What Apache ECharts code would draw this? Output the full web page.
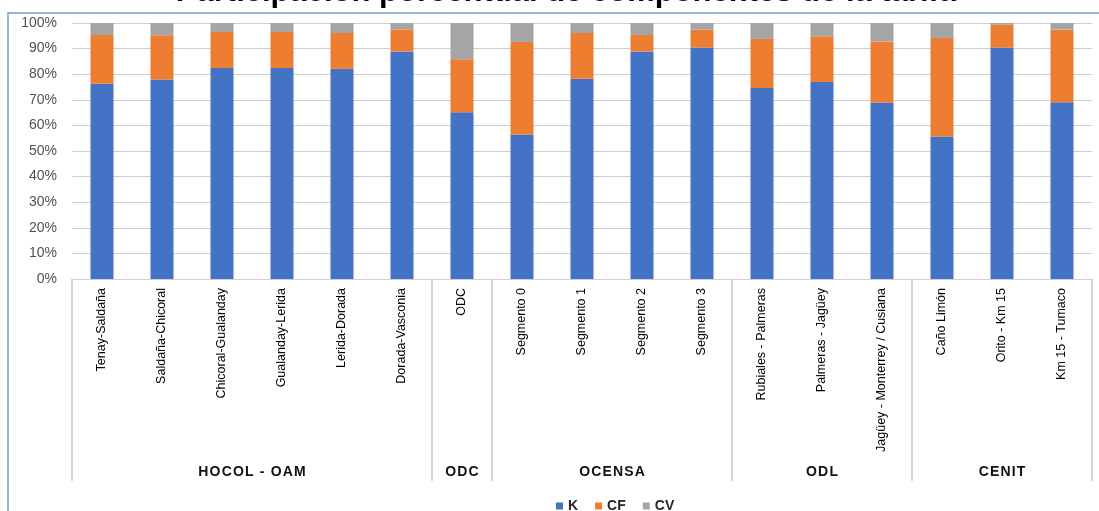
<!DOCTYPE html>
<html>
<head>
<meta charset="utf-8">
<script src="https://cdn.jsdelivr.net/npm/echarts@6/dist/echarts.min.js"></script>
<style>
  html, body { margin: 0; padding: 0; background: #ffffff; }
  #chart { width: 1099px; height: 511px; }
</style>
</head>
<body>
<div id="chart"></div>
<script>
// Tramos por sistema de transporte
const categories = [
  'Tenay-Saldaña', 'Saldaña-Chicoral', 'Chicoral-Gualanday', 'Gualanday-Lerida',
  'Lerida-Dorada', 'Dorada-Vasconia', 'ODC', 'Segmento 0', 'Segmento 1',
  'Segmento 2', 'Segmento 3', 'Rubiales - Palmeras', 'Palmeras - Jagüey',
  'Jagüey - Monterrey / Cusiana', 'Caño Limón', 'Orito - Km 15', 'Km 15 - Tumaco'
];

// Sistemas (nombre y número de tramos)
const groupNames = ['HOCOL - OAM', 'ODC', 'OCENSA', 'ODL', 'CENIT'];
const groupSizes = [6, 1, 4, 3, 3];

// Participación porcentual (%)
const seriesK  = [76.3, 77.9, 82.4, 82.4, 82.1, 88.9, 65.1, 56.4, 78.2, 88.9, 90.4, 74.6, 77.0, 68.9, 55.7, 90.4, 69.0];
const seriesCF = [19.0, 17.3, 14.1, 14.1, 14.0,  8.6, 20.7, 36.2, 17.9,  6.4,  7.0, 19.2, 17.8, 23.9, 38.4,  8.9, 28.4];
const seriesCV = [ 4.7,  4.8,  3.5,  3.5,  3.9,  2.5, 14.2,  7.4,  3.9,  4.7,  2.6,  6.3,  5.2,  7.2,  5.9,  0.7,  2.6];

// Separadores y centros de cada sistema sobre el eje auxiliar (unidades = tramos)
const groupEdges = [0];
const groupCenters = [];
groupSizes.forEach(function (n) {
  const start = groupEdges[groupEdges.length - 1];
  groupCenters.push(start + n / 2);
  groupEdges.push(start + n);
});

const FONT = 'Liberation Sans, Arial, sans-serif';

const chart = echarts.init(document.getElementById('chart'), null, { renderer: 'canvas' });

chart.setOption({
  backgroundColor: '#ffffff',
  animation: false,
  title: {
    text: 'Participación porcentual de componentes de la tarifa',
    left: 561,
    textAlign: 'center',
    top: -28,
    textStyle: { fontFamily: FONT, fontSize: 31, fontWeight: 'bold', color: '#000000' }
  },
  graphic: [{
    type: 'rect',
    silent: true,
    shape: { x: 8, y: 13, width: 1100, height: 510 },
    style: { fill: 'none', stroke: '#7b9bd6', lineWidth: 1.5 }
  }],
  legend: {
    data: ['K', 'CF', 'CV'],
    left: 551,
    top: 494,
    itemWidth: 7,
    itemHeight: 7,
    itemGap: 17,
    icon: 'rect',
    textStyle: { fontFamily: FONT, fontSize: 14, fontWeight: 'bold', color: '#262626', padding: [0, 0, 0, 0] }
  },
  grid: { left: 72, right: 7, top: 23, bottom: 232, containLabel: false },
  xAxis: [
    {
      type: 'category',
      data: categories,
      axisLine: { show: true, lineStyle: { color: '#d0d0d0', width: 1 } },
      axisTick: { show: false },
      axisLabel: {
        interval: 0,
        rotate: 90,
        margin: 9,
        fontFamily: FONT,
        fontSize: 12.5,
        color: '#000000'
      }
    },
    {
      type: 'value',
      position: 'bottom',
      min: 0,
      max: categories.length,
      gridIndex: 0,
      splitLine: { show: false },
      axisLine: { show: false },
      axisTick: {
        show: true,
        customValues: groupEdges,
        length: 202,
        lineStyle: { color: '#c8c8c8', width: 1.5 }
      },
      axisLabel: {
        customValues: groupCenters,
        margin: 186,
        fontFamily: FONT,
        fontSize: 14,
        fontWeight: 'bold',
        color: '#111111',
        formatter: function (v) {
          const i = groupCenters.indexOf(v);
          return i >= 0 ? groupNames[i].split('').join('\u200a') : '';
        }
      }
    }
  ],
  yAxis: {
    type: 'value',
    min: 0,
    max: 100,
    interval: 10,
    axisLine: { show: false },
    axisTick: { show: false },
    splitLine: { lineStyle: { color: '#cfcfcf', width: 1 } },
    axisLabel: {
      margin: 15,
      fontFamily: FONT,
      fontSize: 14,
      color: '#505050',
      formatter: '{value}%'
    }
  },
  series: [
    { name: 'K',  type: 'bar', stack: 'total', data: seriesK,  barWidth: 23, itemStyle: { color: '#4472c4' } },
    { name: 'CF', type: 'bar', stack: 'total', data: seriesCF, barWidth: 23, itemStyle: { color: '#ed7d31' } },
    { name: 'CV', type: 'bar', stack: 'total', data: seriesCV, barWidth: 23, itemStyle: { color: '#a5a5a5' } }
  ]
});
</script>
</body>
</html>
